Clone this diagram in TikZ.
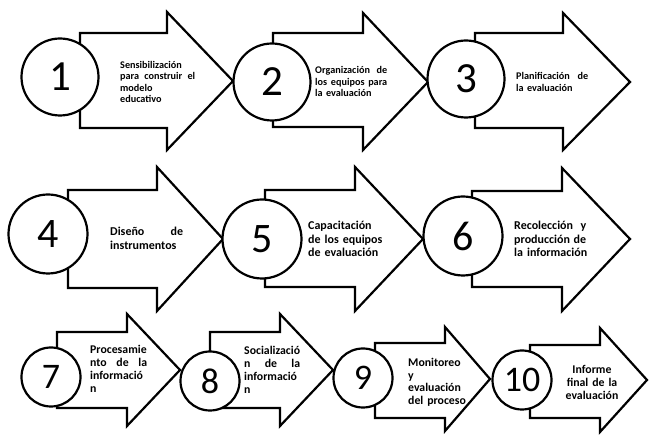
\documentclass[tikz,border=0pt]{standalone}
\usepackage{fontspec}
\setmainfont{Carlito}
% a line spread to a given width; words are separated by \hfill
\newcommand\jl[2]{\leavevmode\hbox to #1{#2}}
% block arrow: shaft left x, shaft top, shaft bottom, head base x, head top, head bottom, tip x, tip y
\newcommand\blockarrow[8]{%
  \draw[blockarrow] (#1,#2) -- (#4,#2) -- (#4,#5) -- (#7,#8) -- (#4,#6) -- (#4,#3) -- (#1,#3) -- cycle;}
\begin{document}
\begin{tikzpicture}[x=1pt,y=-1pt,
  blockarrow/.style={draw=black,fill=white,line width=2.2pt,line join=miter},
  stepcircle/.style={circle,draw=black,fill=white,line width=2.2pt,inner sep=0pt},
  bigcircle/.style={stepcircle,minimum size=77pt,font=\fontsize{43}{43}\selectfont},
  midcircle/.style={stepcircle,minimum size=79pt,font=\fontsize{42}{42}\selectfont},
  smallcircle/.style={stepcircle,minimum size=59pt,font=\fontsize{36}{36}\selectfont},
  steptext/.style={anchor=base west,inner sep=0pt,align=left,text width=95pt},
  rowone/.style={steptext,font=\bfseries\fontsize{10.2}{11.4}\selectfont},
  rowtwo/.style={steptext,font=\bfseries\fontsize{12}{13.8}\selectfont},
  rowthree/.style={steptext,font=\bfseries\fontsize{11.8}{12.8}\selectfont}]
\useasboundingbox[fill=white] (0,0) rectangle (649,435);

% arrows
\blockarrow{80}{33}{128}{167}{12}{150}{233}{81}
\blockarrow{273}{33}{127}{363}{13}{150}{428}{82}
\blockarrow{475}{33}{128}{563}{13}{150}{630}{82}
\blockarrow{68}{190}{288}{157}{167}{311}{223}{239}
\blockarrow{265}{190}{287}{355}{167}{311}{423}{239}
\blockarrow{472}{191}{287}{562}{168}{311}{630}{239}
\blockarrow{57}{332}{408}{127}{314}{426}{180}{370}
\blockarrow{210}{332}{408}{280}{314}{426}{333}{370}
\blockarrow{375}{343}{418}{445}{327}{431}{490}{379}
\blockarrow{530}{345}{418}{600}{328}{432}{647}{380}

% numbered circles
\node[bigcircle] (c1) at (60,77) {1};
\node[bigcircle] (c2) at (272,82) {2};
\node[bigcircle] (c3) at (466,79) {3};
\node[midcircle] (c4) at (48,234) {4};
\node[midcircle] (c5) at (262,239) {5};
\node[midcircle] (c6) at (463,236) {6};
\node[smallcircle] (c7) at (51,377) {7};
\node[smallcircle] (c8) at (210,381) {8};
\node[smallcircle] (c9) at (363,378) {9};
\node[smallcircle] (c10) at (522,380) {10};

% step labels
\node[rowone] (t1) at (120,68.3)
  {Sensibilización\\\jl{75pt}{para\hfill construir\hfill el}\\modelo\\educativo};
\node[rowone] (t2) at (315,74)
  {\jl{72pt}{Organización\hfill de}\\\jl{72pt}{los\hfill equipos\hfill para}\\la evaluación};
\node[rowone] (t3) at (516,80)
  {\jl{72pt}{Planificación\hfill de}\\la evaluación};
\node[rowtwo] (t4) at (110,236)
  {\jl{73pt}{Diseño\hfill de}\\instrumentos};
\node[rowtwo] (t5) at (308,229.3)
  {Capacitación\\de los equipos\\de evaluación};
\node[rowtwo] (t6) at (514,229.3)
  {\jl{72pt}{Recolección\hfill y}\\\jl{72pt}{producción\hfill de}\\la información};
\node[rowthree] (t7) at (90,354)
  {Procesamie\\\jl{57pt}{nto\hfill de\hfill la}\\informació\\n};
\node[rowthree] (t8) at (244,355)
  {Socializació\\\jl{56pt}{n\hfill de\hfill la}\\informació\\n};
\node[rowthree] (t9) at (408,366.3)
  {Monitoreo\\y\\evaluación\\del proceso};
\node[rowthree,anchor=base,align=center,text width=70pt] (t10) at (592,374)
  {Informe\\final de la\\evaluación};
\end{tikzpicture}
\end{document}
